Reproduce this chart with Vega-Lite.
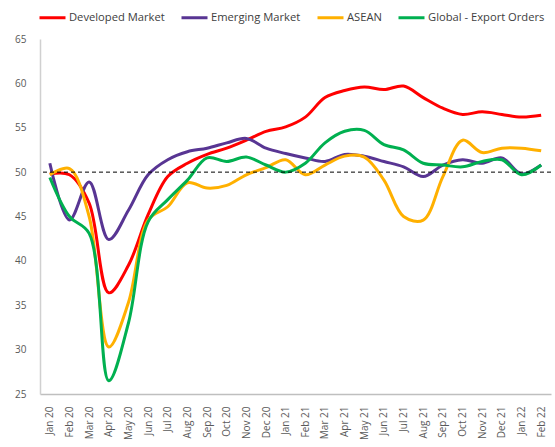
{
  "$schema": "https://vega.github.io/schema/vega-lite/v6.json",
  "autosize": {"type": "none"},
  "width": 511,
  "height": 355,
  "padding": {"left": 40, "top": 39, "right": 4, "bottom": 53},
  "config": {
    "view": {"stroke": null},
    "font": "Open Sans"
  },
  "datasets": {
    "pmi": [
      {"month": "Jan 20", "Developed Market": 49.8, "Emerging Market": 51.0, "ASEAN": 49.7, "Global - Export Orders": 49.4},
      {"month": "Feb 20", "Developed Market": 49.7, "Emerging Market": 44.6, "ASEAN": 50.4, "Global - Export Orders": 45.0},
      {"month": "Mar 20", "Developed Market": 46.5, "Emerging Market": 48.9, "ASEAN": 45.0, "Global - Export Orders": 43.1},
      {"month": "Apr 20", "Developed Market": 36.4, "Emerging Market": 42.4, "ASEAN": 30.3, "Global - Export Orders": 26.5},
      {"month": "May 20", "Developed Market": 39.5, "Emerging Market": 45.7, "ASEAN": 35.3, "Global - Export Orders": 33.0},
      {"month": "Jun 20", "Developed Market": 45.2, "Emerging Market": 49.7, "ASEAN": 44.6, "Global - Export Orders": 44.4},
      {"month": "Jul 20", "Developed Market": 49.5, "Emerging Market": 51.4, "ASEAN": 46.1, "Global - Export Orders": 46.9},
      {"month": "Aug 20", "Developed Market": 51.0, "Emerging Market": 52.3, "ASEAN": 48.8, "Global - Export Orders": 49.1},
      {"month": "Sep 20", "Developed Market": 52.0, "Emerging Market": 52.7, "ASEAN": 48.2, "Global - Export Orders": 51.6},
      {"month": "Oct 20", "Developed Market": 52.7, "Emerging Market": 53.3, "ASEAN": 48.5, "Global - Export Orders": 51.2},
      {"month": "Nov 20", "Developed Market": 53.6, "Emerging Market": 53.8, "ASEAN": 49.7, "Global - Export Orders": 51.7},
      {"month": "Dec 20", "Developed Market": 54.6, "Emerging Market": 52.7, "ASEAN": 50.5, "Global - Export Orders": 50.8},
      {"month": "Jan 21", "Developed Market": 55.1, "Emerging Market": 52.1, "ASEAN": 51.4, "Global - Export Orders": 50.0},
      {"month": "Feb 21", "Developed Market": 56.2, "Emerging Market": 51.6, "ASEAN": 49.7, "Global - Export Orders": 51.0},
      {"month": "Mar 21", "Developed Market": 58.4, "Emerging Market": 51.2, "ASEAN": 50.8, "Global - Export Orders": 53.3},
      {"month": "Apr 21", "Developed Market": 59.2, "Emerging Market": 52.0, "ASEAN": 51.8, "Global - Export Orders": 54.6},
      {"month": "May 21", "Developed Market": 59.6, "Emerging Market": 51.8, "ASEAN": 51.7, "Global - Export Orders": 54.7},
      {"month": "Jun 21", "Developed Market": 59.3, "Emerging Market": 51.2, "ASEAN": 49.1, "Global - Export Orders": 53.1},
      {"month": "Jul 21", "Developed Market": 59.7, "Emerging Market": 50.6, "ASEAN": 45.0, "Global - Export Orders": 52.5},
      {"month": "Aug 21", "Developed Market": 58.4, "Emerging Market": 49.5, "ASEAN": 44.6, "Global - Export Orders": 51.0},
      {"month": "Sep 21", "Developed Market": 57.2, "Emerging Market": 50.8, "ASEAN": 49.5, "Global - Export Orders": 50.8},
      {"month": "Oct 21", "Developed Market": 56.5, "Emerging Market": 51.4, "ASEAN": 53.6, "Global - Export Orders": 50.6},
      {"month": "Nov 21", "Developed Market": 56.8, "Emerging Market": 51.0, "ASEAN": 52.2, "Global - Export Orders": 51.2},
      {"month": "Dec 21", "Developed Market": 56.5, "Emerging Market": 51.6, "ASEAN": 52.7, "Global - Export Orders": 51.4},
      {"month": "Jan 22", "Developed Market": 56.2, "Emerging Market": 49.8, "ASEAN": 52.7, "Global - Export Orders": 49.7},
      {"month": "Feb 22", "Developed Market": 56.4, "Emerging Market": 50.8, "ASEAN": 52.4, "Global - Export Orders": 50.8}
    ],
    "ref": [{"y": 50}]
  },
  "layer": [
    {
      "data": {"name": "pmi"},
      "transform": [
        {"fold": ["Developed Market", "Emerging Market", "ASEAN", "Global - Export Orders"], "as": ["series", "value"]}
      ],
      "mark": {"type": "line", "interpolate": "catmull-rom", "strokeWidth": 3},
      "encoding": {
        "x": {
          "field": "month", "type": "ordinal", "sort": null,
          "scale": {"type": "point", "padding": 0.5},
          "axis": {
            "title": null, "labelAngle": -90, "ticks": false, "labelPadding": 12,
            "labelFontSize": 10, "labelColor": "#595959", "domainColor": "#BFBFBF", "domainWidth": 1.5, "grid": false
          }
        },
        "y": {
          "field": "value", "type": "quantitative",
          "scale": {"domain": [25, 65], "nice": false, "zero": false},
          "axis": {
            "title": null, "values": [25, 30, 35, 40, 45, 50, 55, 60, 65], "ticks": false, "labelPadding": 14,
            "labelFontSize": 10, "labelColor": "#595959", "domainColor": "#D0D0D0", "domainWidth": 1.5, "grid": false
          }
        },
        "color": {
          "field": "series", "type": "nominal",
          "scale": {
            "domain": ["Developed Market", "Emerging Market", "ASEAN", "Global - Export Orders"],
            "range": ["#FF0000", "#583593", "#FFB000", "#00B050"]
          },
          "legend": {
            "title": null, "orient": "none", "direction": "horizontal",
            "legendX": -2, "legendY": -36,
            "symbolType": "stroke", "symbolSize": 676, "symbolStrokeWidth": 3,
            "labelFontSize": 11.2, "labelColor": "#404040", "labelOffset": 2, "columnPadding": 10
          }
        }
      }
    },
    {
      "data": {"name": "ref"},
      "mark": {"type": "rule", "stroke": "#000000", "strokeWidth": 1, "strokeDash": [4, 3]},
      "encoding": {
        "y": {"field": "y", "type": "quantitative"}
      }
    }
  ]
}
